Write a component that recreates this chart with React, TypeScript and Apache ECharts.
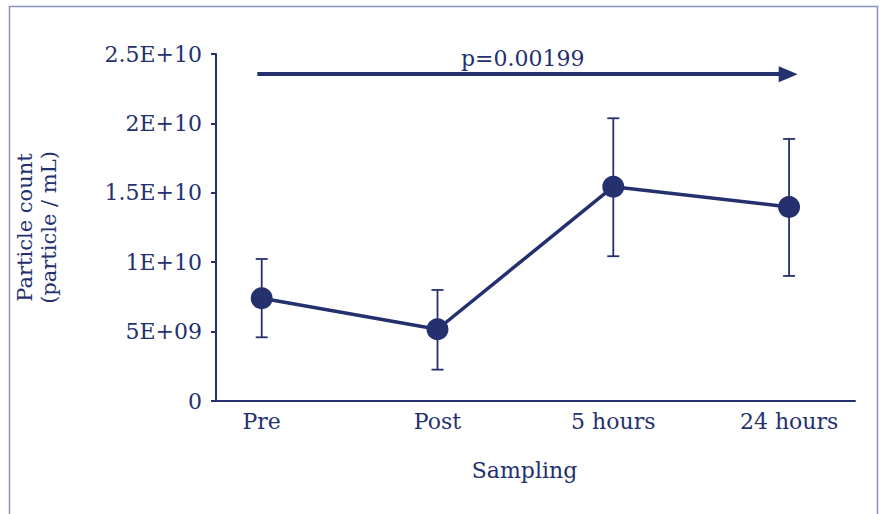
import React, { useEffect, useRef } from "react";
import * as echarts from "echarts";

const categories = ["Pre", "Post", "5 hours", "24 hours"];
const means = [7.4e9, 5.17e9, 15.44e9, 13.98e9];
const upper = [10.23e9, 8.0e9, 20.37e9, 18.88e9];
const lower = [4.59e9, 2.26e9, 10.43e9, 9.01e9];
const yTickLabels = ["0", "5E+09", "1E+10", "1.5E+10", "2E+10", "2.5E+10"];
const yInterval = 5e9;
const yMax = 2.5e10;
const pLabel = "p=0.00199";
const arrowY = 2.355e10;
const arrowFrom = -0.025;
const arrowTo = 2.995;

const NAVY = "#24316e";
const FONT = "DejaVu Serif";

export default function App() {
  const ref = useRef<HTMLDivElement>(null);
  useEffect(() => {
    if (!ref.current) return;
    const chart = echarts.init(ref.current, undefined, { renderer: "svg" });
    const lineData = means.map((m, i) => [i, m]);
    const errData = means.map((_, i) => [i, lower[i], upper[i]]);
    chart.setOption({
      animation: false,
      backgroundColor: "#ffffff",
      graphic: [
        {
          type: "rect",
          shape: { x: 9.5, y: 6.5, width: 868, height: 530 },
          style: { fill: "none", stroke: "#8a92bb", lineWidth: 1.5 },
          silent: true,
          z: -10,
        },
      ],
      grid: { left: 216, right: 30, top: 54, bottom: 113 },
      xAxis: {
        type: "value",
        min: -0.26,
        max: 3.375,
        splitLine: { show: false },
        axisLine: { show: true, onZero: false, lineStyle: { color: NAVY, width: 2 } },
        axisTick: { show: false },
        axisLabel: {
          customValues: [0, 1, 2, 3],
          formatter: (v: number) => categories[Math.round(v)] ?? "",
          color: NAVY,
          fontFamily: FONT,
          fontSize: 22,
          margin: 9,
        },
        name: "Sampling",
        nameLocation: "middle",
        nameGap: 58,
        nameTextStyle: { color: NAVY, fontFamily: FONT, fontSize: 22, padding: [0, 22, 0, 0] },
      },
      yAxis: {
        type: "value",
        min: 0,
        max: yMax,
        interval: yInterval,
        splitLine: { show: false },
        axisLine: { show: true, onZero: false, lineStyle: { color: NAVY, width: 2 } },
        axisTick: { show: true, length: 5, lineStyle: { color: NAVY, width: 2 } },
        axisLabel: {
          formatter: (v: number) => yTickLabels[Math.round(v / yInterval)] ?? "",
          color: NAVY,
          fontFamily: FONT,
          fontSize: 22,
          margin: 14,
        },
        name: "Particle count\n(particle / mL)",
        nameLocation: "middle",
        nameGap: 155,
        nameTextStyle: { color: NAVY, fontFamily: FONT, fontSize: 21, lineHeight: 24 },
      },
      series: [
        {
          type: "custom",
          z: 1,
          data: errData,
          renderItem: (params: any, api: any) => {
            const x = api.value(0);
            const lo = api.coord([x, api.value(1)]);
            const hi = api.coord([x, api.value(2)]);
            const h = 6;
            const style = { stroke: NAVY, lineWidth: 1.8 };
            return {
              type: "group",
              children: [
                { type: "line", shape: { x1: hi[0], y1: hi[1], x2: lo[0], y2: lo[1] }, style },
                { type: "line", shape: { x1: hi[0] - h, y1: hi[1], x2: hi[0] + h, y2: hi[1] }, style },
                { type: "line", shape: { x1: lo[0] - h, y1: lo[1], x2: lo[0] + h, y2: lo[1] }, style },
              ],
            };
          },
        },
        {
          type: "line",
          z: 3,
          data: lineData,
          symbol: "circle",
          symbolSize: 22,
          lineStyle: { color: NAVY, width: 3.5 },
          itemStyle: { color: NAVY },
          markLine: {
            silent: true,
            symbol: ["none", "triangle"],
            symbolSize: [16, 19],
            lineStyle: { color: NAVY, width: 4, type: "solid" },
            label: {
              show: true,
              position: "middle",
              formatter: pLabel,
              color: NAVY,
              fontFamily: FONT,
              fontSize: 22,
              distance: 5,
            },
            data: [
              [
                { coord: [arrowFrom, arrowY] },
                { coord: [arrowTo, arrowY] },
              ],
            ],
          },
        },
      ],
    });
    return () => chart.dispose();
  }, []);
  return (
    <div
      ref={ref}
      style={{ position: "fixed", left: 0, top: 0, width: 885, height: 514 }}
    />
  );
}
